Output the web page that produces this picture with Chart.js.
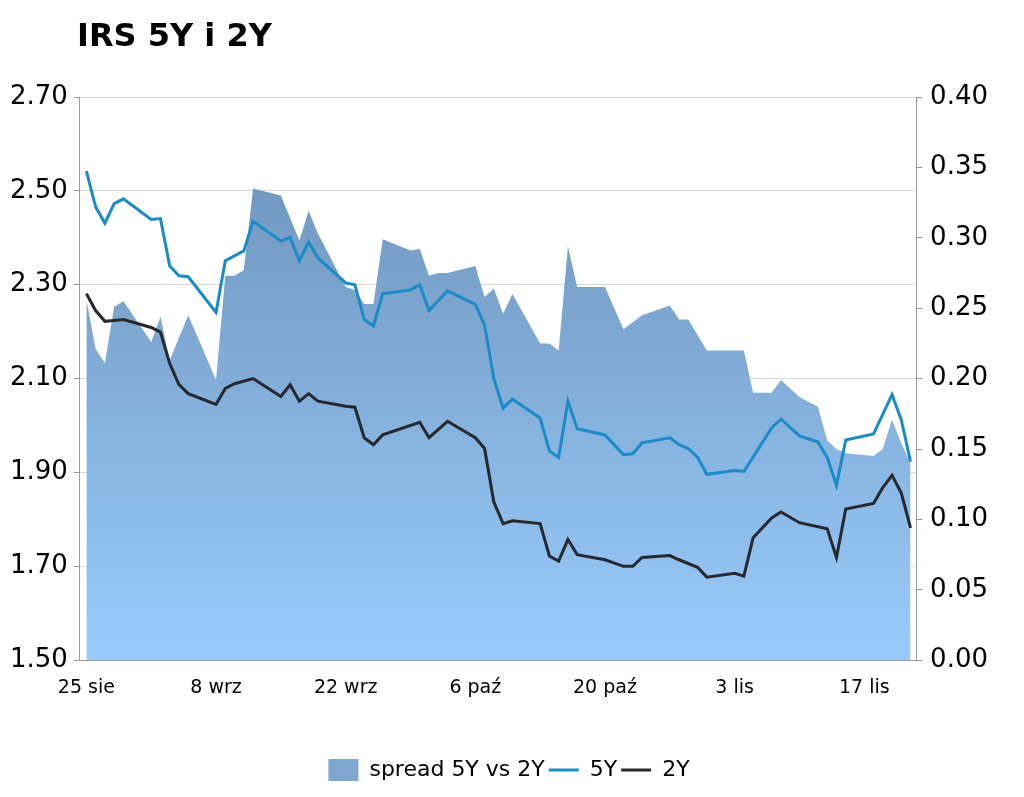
<!DOCTYPE html>
<html><head><meta charset="utf-8">
<script src="https://cdn.jsdelivr.net/npm/chart.js@4"></script>
<style>html,body{margin:0;padding:0;background:#fff;}#wrap{position:relative;width:1024px;height:797px;}
#title{position:absolute;left:77px;top:16px;font:bold 32px "DejaVu Sans",Verdana,sans-serif;color:#000;}</style>
</head><body><div id="wrap"><div id="title">IRS 5Y i 2Y</div><canvas id="c" width="1024" height="797"></canvas></div>
<script>
const tickDays = [0,14,28,42,56,70,84];
const tickLabels = ["25 sie","8 wrz","22 wrz","6 paź","20 paź","3 lis","17 lis"];
const days5 = [0,1,2,3,4,7,8,9,10,11,14,15,17,18,21,22,23,24,25,28,29,30,31,32,35,36,37,39,42,43,44,45,46,49,50,51,52,53,56,58,59,60,63,64,65,66,67,70,71,74,75,77,79,80,81,82,85,87,88,89];
const y5 = [2.542,2.466,2.431,2.473,2.483,2.439,2.441,2.340,2.319,2.317,2.241,2.351,2.372,2.435,2.393,2.401,2.351,2.391,2.357,2.304,2.300,2.226,2.212,2.281,2.289,2.300,2.245,2.287,2.258,2.214,2.100,2.037,2.056,2.016,1.946,1.932,2.052,1.993,1.980,1.938,1.940,1.963,1.974,1.959,1.951,1.932,1.896,1.904,1.902,1.995,2.014,1.978,1.965,1.932,1.873,1.969,1.982,2.066,2.012,1.923];
const days2 = [0,1,2,3,4,7,8,9,10,11,14,15,16,18,21,22,23,24,25,28,29,30,31,32,36,37,39,42,43,44,45,46,49,50,51,52,53,56,58,59,60,63,64,66,67,70,71,72,74,75,77,80,81,82,85,86,87,88,89];
const y2 = [2.281,2.245,2.222,2.224,2.226,2.209,2.199,2.132,2.087,2.068,2.045,2.079,2.089,2.100,2.062,2.087,2.052,2.068,2.052,2.041,2.039,1.974,1.959,1.980,2.007,1.974,2.009,1.974,1.951,1.837,1.791,1.797,1.791,1.722,1.711,1.757,1.725,1.714,1.700,1.700,1.719,1.723,1.714,1.698,1.677,1.685,1.679,1.761,1.803,1.816,1.793,1.780,1.719,1.822,1.834,1.868,1.894,1.856,1.782];
const daysS = [0,1,2,3,4,7,8,9,11,14,15,16,17,18,21,23,24,25,28,29,30,31,32,35,36,37,38,39,42,43,44,45,46,49,50,51,52,53,56,58,59,60,63,64,65,67,71,72,74,75,77,79,80,81,82,85,86,87,88,89];
const spread = [0.256,0.221,0.211,0.251,0.255,0.226,0.244,0.213,0.245,0.199,0.273,0.273,0.277,0.335,0.330,0.298,0.319,0.303,0.265,0.263,0.253,0.253,0.299,0.291,0.292,0.273,0.275,0.275,0.280,0.258,0.264,0.246,0.260,0.225,0.225,0.220,0.294,0.265,0.265,0.235,0.240,0.245,0.252,0.242,0.242,0.220,0.220,0.190,0.190,0.199,0.187,0.180,0.156,0.150,0.147,0.145,0.150,0.171,0.154,0.140];

const zip = (xs, ys) => xs.map((x,i)=>({x, y: ys[i]}));
const FONT = '"DejaVu Sans", Verdana, sans-serif';
function grad(ctx){
  const ch = ctx.chart, a = ch.chartArea;
  if(!a) return '#7fa8d4';
  const g = ch.ctx.createLinearGradient(0,a.top,0,a.bottom);
  g.addColorStop(0,'#6a8fb5'); g.addColorStop(1,'#9acbfb');
  return g;
}
new Chart(document.getElementById('c'), {
  type:'line',
  data:{datasets:[
    {label:'spread 5Y vs 2Y', data:zip(daysS,spread), yAxisID:'y1', fill:'origin', backgroundColor:grad, borderWidth:0, pointRadius:0, tension:0, order:5},
    {label:'5Y', data:zip(days5,y5), yAxisID:'y', borderColor:'#1a8bc7', borderWidth:3, pointRadius:0, fill:false, tension:0, order:1},
    {label:'2Y', data:zip(days2,y2), yAxisID:'y', borderColor:'#25292f', borderWidth:3, pointRadius:0, fill:false, tension:0, order:0}
  ]},
  options:{
    responsive:false, animation:false,
    layout:{padding:{top:97,left:4,right:10,bottom:6}},
    plugins:{
      filler:{drawTime:'beforeDatasetsDraw'},
      tooltip:{enabled:false},
      legend:{position:'bottom', labels:{font:{family:FONT,size:22}, color:'#000', padding:4,
        sort:(a,b)=>a.datasetIndex-b.datasetIndex,
        generateLabels:(ch)=>ch.data.datasets.map((d,i)=>({
          text:d.label, datasetIndex:i, fillStyle: i===0?'#7fa6cf':d.borderColor, strokeStyle: i===0?'#7fa6cf':d.borderColor,
          lineWidth: i===0?0:3, pointStyle: i===0?'rect':'line', hidden:false, fontColor:'#000'})),
        usePointStyle:true, pointStyleWidth:30, boxHeight:28}}
    },
    scales:{
      x:{type:'linear', min:-0.7, max:89.6,
        afterBuildTicks:(s)=>{s.ticks = tickDays.map(v=>({value:v}));},
        afterFit:(s)=>{s.height += 48;},
        ticks:{callback:(v)=>tickLabels[tickDays.indexOf(v)] ?? '', font:{family:FONT,size:19}, color:'#000', maxRotation:0, autoSkip:false, padding:8},
        grid:{display:false}, border:{color:'#999'}},
      y:{position:'left', min:1.5, max:2.7,
        afterBuildTicks:(s)=>{s.ticks=[1.5,1.7,1.9,2.1,2.3,2.5,2.7].map(v=>({value:v}));},
        ticks:{callback:(v)=>v.toFixed(2), font:{family:FONT,size:26}, color:'#000', padding:6},
        grid:{color:'#d9d9d9', tickColor:'#999', tickLength:6}, border:{color:'#999'}},
      y1:{position:'right', min:0, max:0.4,
        afterBuildTicks:(s)=>{s.ticks=[0,0.05,0.1,0.15,0.2,0.25,0.3,0.35,0.4].map(v=>({value:v}));},
        afterFit:(s)=>{s.width += 18;},
        ticks:{callback:(v)=>v.toFixed(2), font:{family:FONT,size:26}, color:'#000', padding:8},
        grid:{drawOnChartArea:false, color:'#999', tickLength:6}, border:{color:'#999'}}
    }
  }
});
</script></body></html>
